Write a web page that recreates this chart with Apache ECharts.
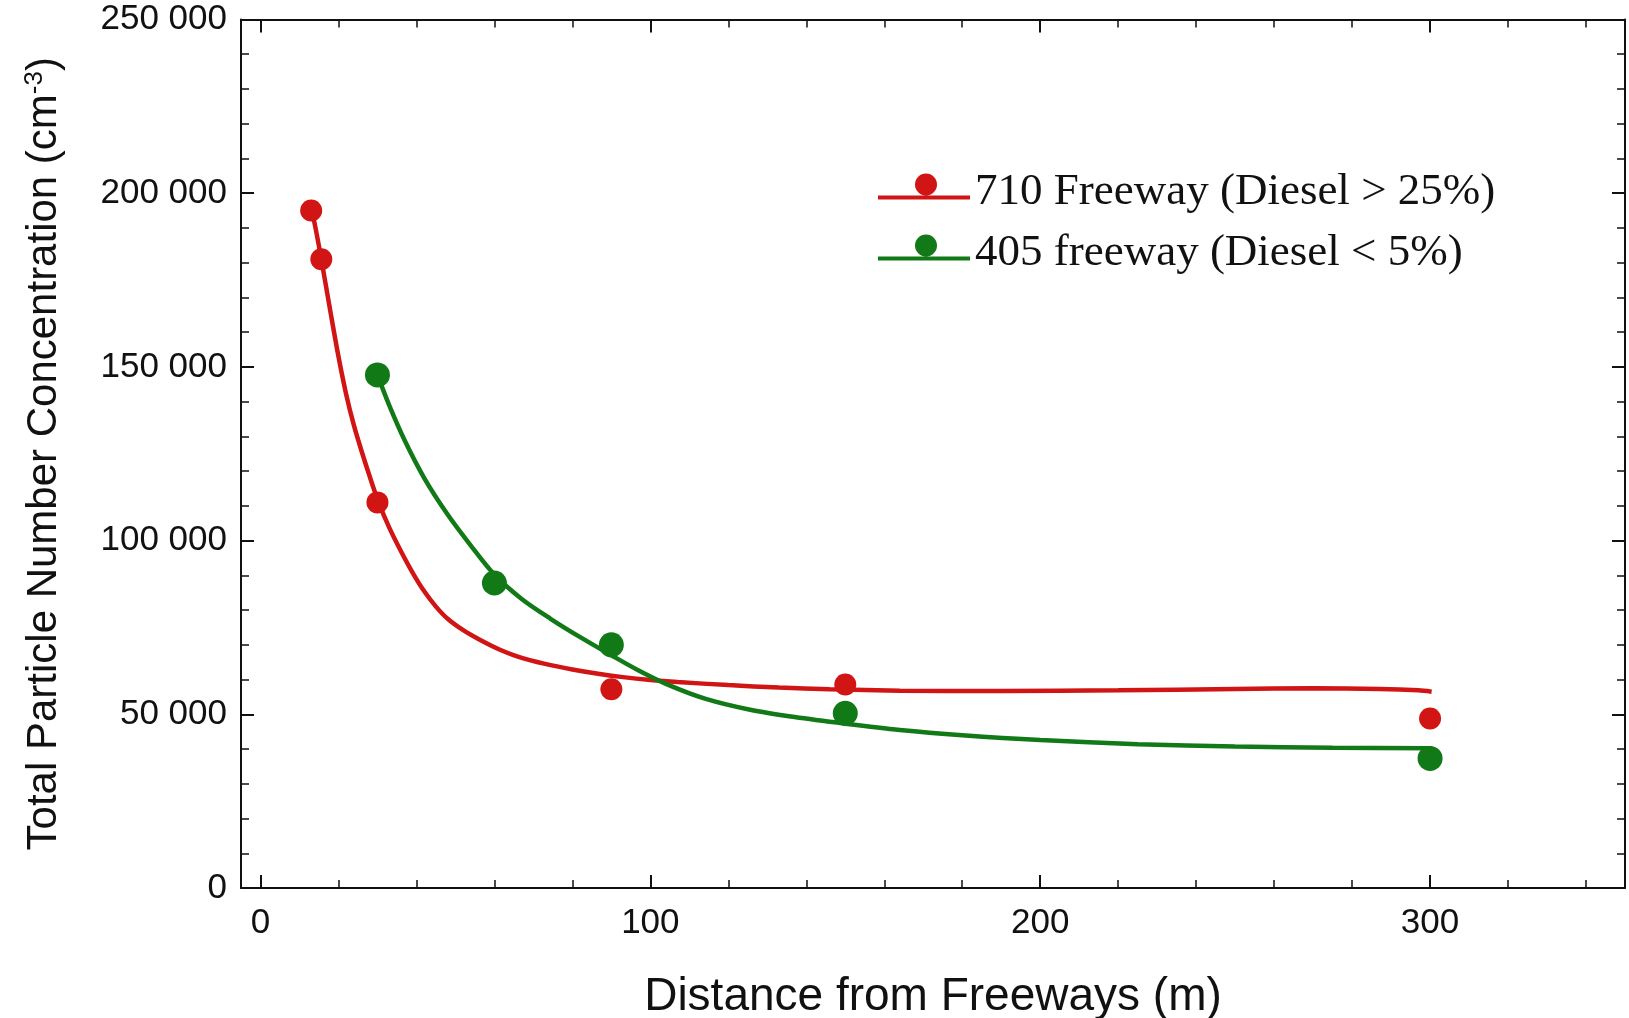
<!DOCTYPE html>
<html>
<head>
<meta charset="utf-8">
<script src="https://cdn.jsdelivr.net/npm/echarts@6/dist/echarts.min.js"></script>
<style>
html,body{margin:0;padding:0;background:#fff;}
#chart{width:1629px;height:1018px;}
</style>
</head>
<body>
<div id="chart"></div>
<script>
// ---- data ----
const seriesNames = ['710 Freeway (Diesel > 25%)', '405 freeway (Diesel < 5%)'];
const redPoints = [[13, 195000], [15.6, 181000], [30, 111000], [90, 57200], [150, 58600], [300, 48800]];
const greenPoints = [[30, 147700], [60, 87800], [90, 70000], [150, 50300], [300, 37300]];
const redCurve = [[12.8, 197300], [14.2, 189500], [15.6, 181000], [18, 165500], [20, 153000], [22, 142000],
  [24, 133000], [26, 125500], [28, 118500], [30.3, 111000], [33, 103800], [36, 97000], [39, 90800],
  [42, 85400], [45, 81000], [48, 77500], [52, 74200], [56, 71600], [61, 68800], [66, 66600], [73, 64500],
  [80, 62900], [87, 61600], [93, 60700], [100, 59900], [107, 59300], [120, 58400], [133, 57700],
  [146, 57200], [164, 56800], [190, 56700], [220, 56900], [250, 57300], [270, 57500], [287, 57300],
  [297, 56900], [300.4, 56500]];
const greenCurve = [[30, 147700], [33, 139000], [37, 128800], [42, 118000], [48, 107500], [54, 98500],
  [60, 90200], [67, 83200], [74.4, 77500], [82, 72200], [90.3, 66800], [97, 62600], [104.3, 58600],
  [114, 54500], [125.6, 51300], [137, 49200], [150, 47300], [164, 45500], [180, 44000], [200, 42600],
  [225, 41400], [250, 40700], [275, 40350], [300.5, 40200]];
const xMajorTicks = [0, 100, 200, 300];
const xMinorTicks = [20, 40, 60, 80, 120, 140, 160, 180, 220, 240, 260, 280, 320, 340];
const yTicks = [0, 50000, 100000, 150000, 200000, 250000];
const yTickLabels = ['0', '50 000', '100 000', '150 000', '200 000', '250 000'];
const xTitle = 'Distance from Freeways (m)';
const yTitle = 'Total Particle Number Concentration (cm{sup|-3})';

// ---- style ----
const RED = '#d11414';
const GREEN = '#117a16';
const AX = '#111';
// legend glyph: horizontal line with a dot sitting on top of it (tiny invisible point extends bounds downward)
const legendIcon = 'path://M0,24L92,24L92,28L0,28Z M37,13A11,11,0,1,1,59,13A11,11,0,1,1,37,13Z M0,40L0.01,40L0,39.99Z';

const X_MIN = -5, X_MAX = 350;
const Y_MIN = 0, Y_MAX = 250000;
const TICK_FONT = { fontFamily: 'Liberation Sans', fontSize: 35, color: '#111' };

function xAxisBase(extra) {
  return Object.assign({
    type: 'value', gridIndex: 0, min: X_MIN, max: X_MAX,
    splitLine: { show: false },
    axisLabel: { show: false },
    axisLine: { show: false, onZero: false },
    axisTick: { show: false }
  }, extra);
}

const chart = echarts.init(document.getElementById('chart'), null, { renderer: 'canvas' });
chart.setOption({
  animation: false,
  backgroundColor: '#fff',
  grid: { left: 241, right: 4, top: 19.5, bottom: 130, containLabel: false, outerBoundsMode: 'none' },
  legend: {
    orient: 'vertical', left: 878, top: 170, padding: 0,
    itemWidth: 92, itemHeight: 38, itemGap: 16,
    data: seriesNames.map(n => ({ name: n, icon: legendIcon })),
    textStyle: { fontFamily: 'Liberation Serif', fontSize: 45, color: '#111' },
    selectedMode: false
  },
  xAxis: [
    xAxisBase({
      position: 'bottom',
      name: xTitle, nameLocation: 'middle', nameGap: 86,
      nameTextStyle: { fontFamily: 'Liberation Sans', fontSize: 46, color: '#111' },
      axisLine: { show: true, onZero: false, lineStyle: { color: AX, width: 2 } },
      axisTick: { show: true, inside: true, length: 13, customValues: xMajorTicks, lineStyle: { color: AX, width: 2 } },
      axisLabel: Object.assign({ show: true, customValues: xMajorTicks, margin: 18 }, TICK_FONT)
    }),
    xAxisBase({
      position: 'bottom',
      axisTick: { show: true, inside: true, length: 8, customValues: xMinorTicks, lineStyle: { color: AX, width: 1.5 } }
    }),
    xAxisBase({
      position: 'top',
      axisLine: { show: true, onZero: false, lineStyle: { color: AX, width: 2 } },
      axisTick: { show: true, inside: true, length: 13, customValues: xMajorTicks, lineStyle: { color: AX, width: 2 } }
    }),
    xAxisBase({
      position: 'top',
      axisTick: { show: true, inside: true, length: 8, customValues: xMinorTicks, lineStyle: { color: AX, width: 1.5 } }
    })
  ],
  yAxis: [
    {
      type: 'value', position: 'left', min: Y_MIN, max: Y_MAX, interval: 50000,
      name: yTitle, nameLocation: 'middle', nameGap: 175, nameRotate: 90,
      nameTextStyle: {
        fontFamily: 'Liberation Sans', fontSize: 42, color: '#111',
        rich: { sup: { fontFamily: 'Liberation Sans', fontSize: 26, color: '#111', verticalAlign: 'top', padding: [0, 0, 18, 0] } }
      },
      splitLine: { show: false },
      axisLine: { show: true, onZero: false, lineStyle: { color: AX, width: 2 } },
      axisTick: { show: true, inside: true, length: 13, lineStyle: { color: AX, width: 2 } },
      minorTick: { show: true, splitNumber: 5, length: 8, lineStyle: { color: AX, width: 1.5 } },
      axisLabel: Object.assign({
        margin: 14,
        formatter: v => { const i = yTicks.indexOf(v); return i >= 0 ? yTickLabels[i] : ''; }
      }, TICK_FONT)
    },
    {
      type: 'value', position: 'right', min: Y_MIN, max: Y_MAX, interval: 50000,
      splitLine: { show: false },
      axisLine: { show: true, onZero: false, lineStyle: { color: AX, width: 2 } },
      axisTick: { show: true, inside: true, length: 13, lineStyle: { color: AX, width: 2 } },
      minorTick: { show: true, splitNumber: 5, length: 8, lineStyle: { color: AX, width: 1.5 } },
      axisLabel: { show: false }
    }
  ],
  series: [
    { name: seriesNames[0], type: 'scatter', xAxisIndex: 0, yAxisIndex: 0, data: redPoints,
      symbol: 'circle', symbolSize: 22, itemStyle: { color: RED, opacity: 1 }, z: 5 },
    { name: seriesNames[1], type: 'scatter', xAxisIndex: 0, yAxisIndex: 0, data: greenPoints,
      symbol: 'circle', symbolSize: 25, itemStyle: { color: GREEN, opacity: 1 }, z: 5 },
    { name: seriesNames[0], type: 'line', xAxisIndex: 0, yAxisIndex: 0, data: redCurve,
      smooth: 0.3, showSymbol: false, symbol: 'none', lineStyle: { color: RED, width: 4.5 }, itemStyle: { color: RED }, z: 3 },
    { name: seriesNames[1], type: 'line', xAxisIndex: 0, yAxisIndex: 0, data: greenCurve,
      smooth: 0.3, showSymbol: false, symbol: 'none', lineStyle: { color: GREEN, width: 4.5 }, itemStyle: { color: GREEN }, z: 3 }
  ]
});
</script>
</body>
</html>
